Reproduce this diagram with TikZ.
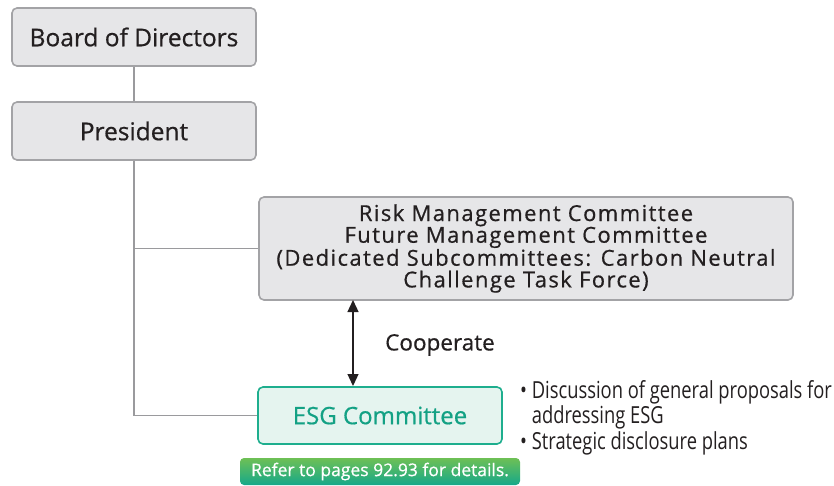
\documentclass[tikz,border=0pt]{standalone}
\usepackage{fontspec}
\setmainfont{Open Sans}[FakeBold=0.35]
\newfontfamily\boxfont[FakeBold=0.6]{Open Sans}
\newfontfamily\riskfont[FakeBold=0.6,LetterSpace=6.5]{Open Sans}
\newfontfamily\condfont[FakeStretch=0.78]{Open Sans}
\usetikzlibrary{arrows.meta}
\definecolor{boxfill}{HTML}{E6E6E8}
\definecolor{boxline}{HTML}{A3A3A6}
\definecolor{conn}{HTML}{9A9A9D}
\definecolor{esgline}{HTML}{1EAE8E}
\definecolor{esgfill}{HTML}{E5F4EF}
\definecolor{esgtext}{HTML}{13A184}
\definecolor{btntop}{HTML}{6EC055}
\definecolor{btnbot}{HTML}{15A88A}
\definecolor{txt}{HTML}{231F20}
\tikzset{
  graybox/.style={draw=boxline, line width=1.6pt, fill=boxfill, rounded corners=5pt, inner sep=0pt, text=txt},
  esgbox/.style={draw=esgline, line width=1.6pt, fill=esgfill, rounded corners=5pt, inner sep=0pt, text=esgtext},
  connector/.style={draw=conn, line width=1.4pt},
}
\begin{document}
\begin{tikzpicture}[x=1pt,y=-1pt]
\useasboundingbox (0,0) rectangle (834,485);
\node[graybox, minimum width=244pt, minimum height=58pt, font=\boxfont\fontsize{24.5}{26}\selectfont] (board) at (134,37) {Board of Directors};
\node[graybox, minimum width=244pt, minimum height=58pt, font=\boxfont\fontsize{24.5}{26}\selectfont] (pres) at (134,131) {President};
\node[graybox, minimum width=534pt, minimum height=103pt, align=center, font=\riskfont\fontsize{22}{21.7}\selectfont] (risk) at (526,248.5) {Risk Management Committee\\Future Management Committee\\(Dedicated Subcommittees: Carbon Neutral\\Challenge Task Force)};
\node[esgbox, minimum width=244pt, minimum height=57pt, font=\boxfont\fontsize{24}{26}\selectfont] (esg) at (380,415.5) {ESG Committee};
\coordinate (j1) at (134,248.5);
\coordinate (j2) at (134,415.5);
\draw[connector] (board.south) -- (pres.north);
\draw[connector] (pres.south) -- (j2) -- (esg.west);
\draw[connector] (j1) -- (risk.west);
\coordinate (atop) at (353,300);
\coordinate (abot) at (353,386);
\draw[line width=1.3pt, txt, {Triangle[length=12pt,width=11pt]}-{Triangle[length=12pt,width=11pt]}] (atop) -- (abot);
\node[anchor=west, text=txt, inner sep=0pt, font=\boxfont\fontsize{22.5}{24}\selectfont] (coop) at (385,345) {Cooperate};
\node[anchor=center, minimum width=280pt, minimum height=27pt, inner sep=0pt, rounded corners=4pt, top color=btntop, bottom color=btnbot, text=white, font=\boxfont\fontsize{17.5}{19}\selectfont] (btn) at (380,471.5) {Refer to pages 92.93 for details.};
\node[anchor=north west, align=left, text=txt, inner sep=0pt, font=\condfont\fontsize{23.5}{25.5}\selectfont] (bul) at (520,380) {\textbullet\ Discussion of general proposals for\\\phantom{\textbullet\ }addressing ESG\\\textbullet\ Strategic disclosure plans};
\end{tikzpicture}
\end{document}
